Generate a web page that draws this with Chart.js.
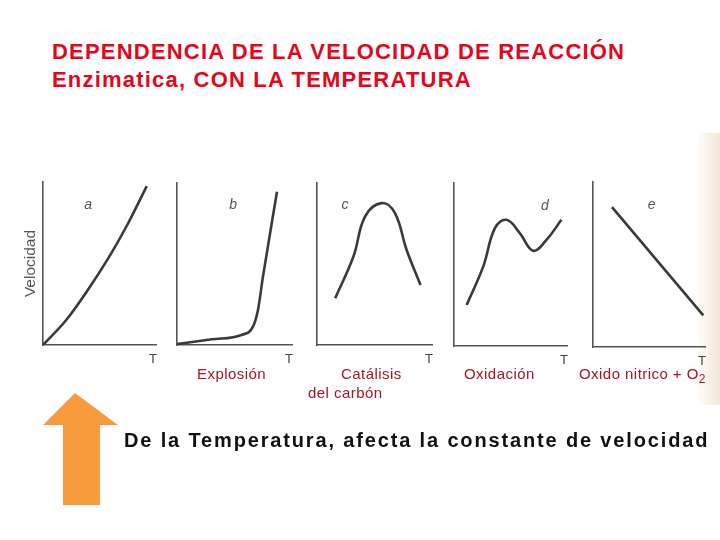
<!DOCTYPE html>
<html>
<head>
<meta charset="utf-8">
<script src="https://cdn.jsdelivr.net/npm/chart.js@4.4.1/dist/chart.umd.min.js"></script>
<style>
  body { margin: 0; background: #fff; }
  #page { position: relative; width: 720px; height: 540px; overflow: hidden; font-family: "Liberation Sans", Arial, sans-serif; }
  .title { position: absolute; left: 52px; color: #e3061c; font-weight: bold; font-size: 22px; letter-spacing: 1.2px; white-space: nowrap; }
  .lbl { position: absolute; color: #a5162b; font-size: 15px; letter-spacing: 0.45px; white-space: nowrap; }
  #strip { position: absolute; left: 698px; top: 133px; width: 22px; height: 272px;
           background: linear-gradient(to right, #fefcf9, #f3e6d8); }
  canvas { position: absolute; }
  #bottom { position: absolute; left: 124px; top: 429px; font-size: 20px; letter-spacing: 1.85px; font-weight: bold; color: #111; white-space: nowrap; }
</style>
</head>
<body>
<div id="page">
  <div id="strip"></div>
  <div class="title" style="top:39px">DEPENDENCIA DE LA VELOCIDAD DE REACCIÓN</div>
  <div class="title" style="top:67px">Enzimatica, CON LA TEMPERATURA</div>

  <canvas id="ca"></canvas>
  <canvas id="cb"></canvas>
  <canvas id="cc"></canvas>
  <canvas id="cd"></canvas>
  <canvas id="ce"></canvas>

  <div class="lbl" style="left:197px;top:365px">Explosión</div>
  <div class="lbl" style="left:341px;top:365px">Catálisis</div>
  <div class="lbl" style="left:308px;top:384px">del carbón</div>
  <div class="lbl" style="left:464px;top:365px">Oxidación</div>
  <div class="lbl" style="left:579px;top:365px">Oxido nitrico + O<sub style="font-size:12px">2</sub></div>

  <svg style="position:absolute;left:0;top:0" width="720" height="540">
    <polygon points="75,393 118,425 100,425 100,505 63,505 63,425 43,425" fill="#f89b3d"/>
  </svg>
  <div id="bottom">De la Temperatura, afecta la constante de velocidad</div>
</div>

<script>
// curve values (0..10 on both axes, T along x, velocidad along y)
const aX = [0, 2.0, 3.83, 5.88, 7.34, 9.1];
const aY = [0, 1.5, 3.27, 5.5, 7.3, 9.75];

const bX = [0, 3.0, 5.55, 6.55, 6.98, 7.41, 8.62];
const bY = [0.06, 0.35, 0.62, 1.13, 2.16, 4.22, 9.46];

const cX = [1.57, 3.14, 4.14, 5.57, 6.72, 7.72, 8.92];
const cY = [2.89, 5.46, 7.93, 8.76, 8.14, 5.88, 3.71];

const dX = [1.11, 2.56, 3.59, 4.61, 5.77, 6.94, 8.11, 9.42];
const dY = [2.52, 4.87, 7.23, 7.74, 6.93, 5.84, 6.51, 7.74];

const eX = [1.68, 9.76];
const eY = [8.48, 1.92];

const panelLetters = ['a', 'b', 'c', 'd', 'e'];
const axisTitleX = 'T';
const axisTitleY = 'Velocidad';

// where each little graph sits on the page
const panels = [
  { id: 'ca', xs: aX, ys: aY, left: 43, top: 182, bottom: 345, right: 157, lx: 3.95, ly: 8.6, yTitle: true, mono: true },
  { id: 'cb', xs: bX, ys: bY, left: 177, top: 183, bottom: 345, right: 293, lx: 4.83, ly: 8.64, mono: true },
  { id: 'cc', xs: cX, ys: cY, left: 317, top: 183, bottom: 345, right: 433, lx: 2.41, ly: 8.64, tension: 0.4 },
  { id: 'cd', xs: dX, ys: dY, left: 454, top: 183, bottom: 346, right: 568, lx: 7.98, ly: 8.6, tension: 0.4 },
  { id: 'ce', xs: eX, ys: eY, left: 593, top: 182, bottom: 347, right: 706, lx: 5.2, ly: 8.6, tension: 0 }
];

// draws the italic letter inside each graph
const letterPlugin = {
  id: 'letter',
  afterDatasetsDraw(chart, args, opts) {
    const ctx = chart.ctx;
    const x = chart.scales.x.getPixelForValue(opts.x);
    const y = chart.scales.y.getPixelForValue(opts.y);
    ctx.save();
    ctx.font = 'italic 14px "Liberation Sans", Arial, sans-serif';
    ctx.fillStyle = '#555';
    ctx.textAlign = 'center';
    ctx.textBaseline = 'middle';
    ctx.fillText(opts.text, x, y);
    ctx.restore();
  }
};

panels.forEach((p, i) => {
  const yW = p.yTitle ? 22 : 3;
  const xH = 22;
  const padTop = 2;
  const w = yW + (p.right - p.left);
  const h = padTop + (p.bottom - p.top) + xH;
  const cv = document.getElementById(p.id);
  cv.style.left = (p.left - yW) + 'px';
  cv.style.top = (p.top - padTop) + 'px';
  cv.style.width = w + 'px';
  cv.style.height = h + 'px';
  cv.width = w;
  cv.height = h;

  new Chart(cv, {
    type: 'line',
    data: {
      datasets: [{
        data: p.xs.map((x, k) => ({ x: x, y: p.ys[k] })),
        borderColor: '#3a3a3a',
        borderWidth: 2.6,
        pointRadius: 0,
        tension: p.mono ? 0.4 : p.tension,
        cubicInterpolationMode: p.mono ? 'monotone' : 'default',
        fill: false
      }]
    },
    options: {
      responsive: false,
      animation: false,
      layout: { padding: { top: padTop, left: 0, right: 0, bottom: 0 } },
      plugins: {
        legend: { display: false },
        tooltip: { enabled: false },
        letter: { text: panelLetters[i], x: p.lx, y: p.ly }
      },
      scales: {
        x: {
          type: 'linear', min: 0, max: 10,
          grid: { display: false, drawTicks: false },
          ticks: { display: false },
          border: { display: true, color: '#555', width: 1.6 },
          title: { display: true, text: axisTitleX, align: 'end', color: '#444',
                   font: { size: 13, family: '"Liberation Sans", Arial' }, padding: { top: 2, bottom: 0 } },
          afterFit: s => { s.height = xH; }
        },
        y: {
          type: 'linear', min: 0, max: 10,
          grid: { display: false, drawTicks: false },
          ticks: { display: false },
          border: { display: true, color: '#555', width: 1.6 },
          title: { display: !!p.yTitle, text: axisTitleY, color: '#555',
                   font: { size: 15.5, family: '"Liberation Sans", Arial' }, padding: 0 },
          afterFit: s => { s.width = yW; }
        }
      }
    },
    plugins: [letterPlugin]
  });
});
</script>
</body>
</html>
